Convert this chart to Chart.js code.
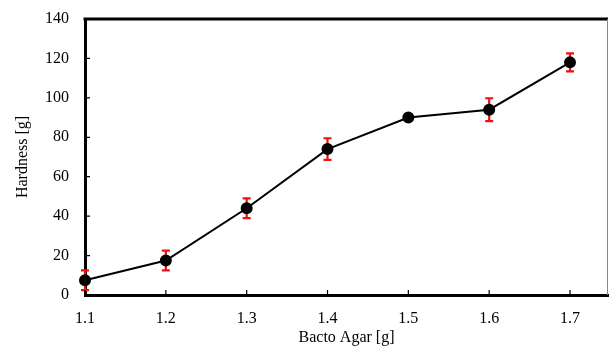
<!DOCTYPE html>
<html>
<head>
  <title>Hardness vs Bacto Agar</title>
  <script src="https://cdn.jsdelivr.net/npm/chart.js"></script>
  <style>
    html, body { margin: 0; padding: 0; background: #fff; overflow: hidden; }
    canvas { display: block; }
  </style>
</head>
<body>
  <canvas id="chart" width="609" height="347"></canvas>
  <script>
    // values
    const agar = [1.1, 1.2, 1.3, 1.4, 1.5, 1.6, 1.7];
    const hardness = [7.5, 17.5, 44, 74, 90, 94, 118];
    const errors = [5, 5, 5, 5.5, 0, 5.8, 4.6];
    const xTicks = [1.1, 1.2, 1.3, 1.4, 1.5, 1.6, 1.7];
    const yTicks = [0, 20, 40, 60, 80, 100, 120, 140];

    const serif = 'Liberation Serif';

    // red error bars, drawn under the markers
    const errorBars = {
      id: 'errorBars',
      beforeDatasetsDraw(chart) {
        const ctx = chart.ctx;
        const x = chart.scales.x, y = chart.scales.y;
        ctx.save();
        ctx.strokeStyle = '#f01010';
        ctx.lineWidth = 2.2;
        agar.forEach((a, i) => {
          if (!errors[i]) return;
          const px = x.getPixelForValue(a);
          const top = y.getPixelForValue(hardness[i] + errors[i]);
          const bot = y.getPixelForValue(hardness[i] - errors[i]);
          ctx.beginPath();
          ctx.moveTo(px, top); ctx.lineTo(px, bot);
          ctx.moveTo(px - 4, top); ctx.lineTo(px + 4, top);
          ctx.moveTo(px - 4, bot); ctx.lineTo(px + 4, bot);
          ctx.stroke();
        });
        ctx.restore();
      }
    };

    // frame and inward tick marks
    const frame = {
      id: 'frame',
      afterDraw(chart) {
        const ctx = chart.ctx;
        const a = chart.chartArea;
        const x = chart.scales.x, y = chart.scales.y;
        ctx.save();
        ctx.strokeStyle = '#000';
        ctx.lineWidth = 1.2;
        ctx.beginPath();
        xTicks.forEach(v => {
          const px = x.getPixelForValue(v);
          ctx.moveTo(px, a.bottom); ctx.lineTo(px, a.bottom - 5);
        });
        yTicks.forEach(v => {
          const py = y.getPixelForValue(v);
          ctx.moveTo(a.left, py); ctx.lineTo(a.left + 5, py);
        });
        ctx.stroke();
        ctx.lineWidth = 3;
        ctx.beginPath();
        ctx.moveTo(a.left - 1.5, a.top); ctx.lineTo(a.right, a.top);
        ctx.stroke();
        ctx.strokeStyle = '#888';
        ctx.lineWidth = 1;
        ctx.beginPath();
        ctx.moveTo(a.right - 0.5, a.top); ctx.lineTo(a.right - 0.5, a.bottom);
        ctx.stroke();
        ctx.restore();
      }
    };

    new Chart(document.getElementById('chart'), {
      type: 'line',
      data: {
        datasets: [{
          data: agar.map((a, i) => ({ x: a, y: hardness[i] })),
          borderColor: '#000',
          borderWidth: 2,
          backgroundColor: '#000',
          pointRadius: 5,
          pointHoverRadius: 5,
          tension: 0,
          clip: false
        }]
      },
      options: {
        responsive: false,
        animation: false,
        layout: { autoPadding: false, padding: { top: 19, right: 1, left: 0, bottom: 0 } },
        plugins: { legend: { display: false }, tooltip: { enabled: false } },
        scales: {
          x: {
            type: 'linear',
            min: 1.1,
            max: 1.747,
            afterBuildTicks: s => { s.ticks = xTicks.map(v => ({ value: v })); },
            afterFit: s => { s.height = 52; s.paddingLeft = 0; s.paddingRight = 0; },
            grid: { drawOnChartArea: false, drawTicks: false },
            border: { color: '#000', width: 3 },
            ticks: {
              padding: 14,
              color: '#000',
              font: { family: serif, size: 16 },
              callback: v => v.toFixed(1)
            },
            title: {
              display: true,
              text: 'Bacto Agar [g]',
              color: '#000',
              font: { family: serif, size: 16 },
              padding: { top: 0, bottom: 0 }
            }
          },
          y: {
            min: 0,
            max: 140,
            afterBuildTicks: s => { s.ticks = yTicks.map(v => ({ value: v })); },
            afterFit: s => { s.width = 85; s.paddingTop = 0; s.paddingBottom = 0; },
            grid: { drawOnChartArea: false, drawTicks: false },
            border: { color: '#000', width: 3 },
            ticks: {
              padding: 16,
              color: '#000',
              font: { family: serif, size: 16 }
            },
            title: {
              display: true,
              text: 'Hardness [g]',
              color: '#000',
              font: { family: serif, size: 16 },
              padding: { top: 13, bottom: 0 }
            }
          }
        }
      },
      plugins: [errorBars, frame]
    });
  </script>
</body>
</html>
